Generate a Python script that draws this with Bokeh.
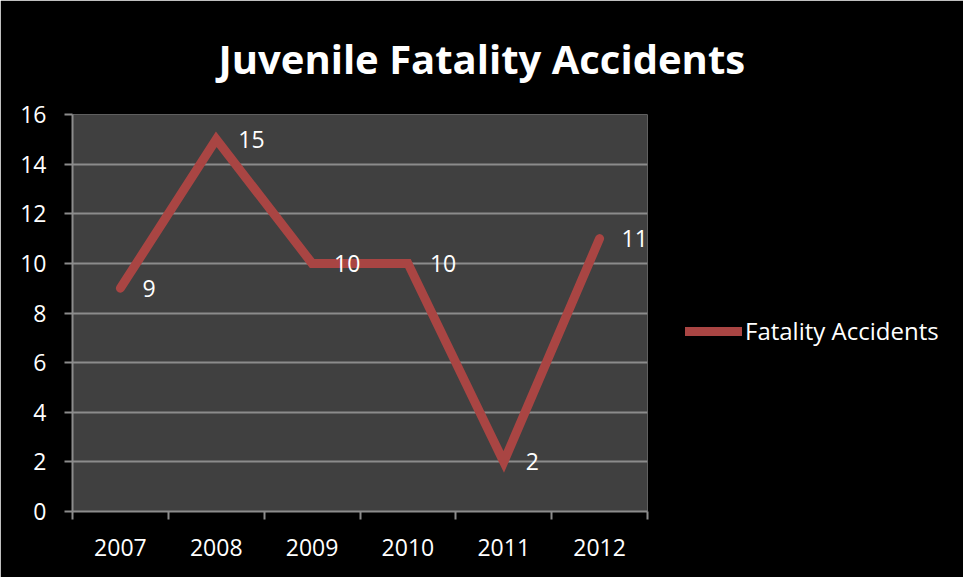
from bokeh.plotting import figure
from bokeh.models import ColumnDataSource, FixedTicker, Range1d, Legend, LegendItem
from bokeh.core.properties import value
from bokeh.embed import file_html
from bokeh.resources import INLINE

years = ["2007", "2008", "2009", "2010", "2011", "2012"]
accidents = [9, 15, 10, 10, 2, 11]
y_ticks = [0, 2, 4, 6, 8, 10, 12, 14, 16]

xpos = [i + 0.5 for i in range(len(years))]
src = ColumnDataSource(dict(x=xpos, y=accidents, lab=[str(v) for v in accidents]))

FONT = "Open Sans"
LINE_COLOR = "#A94543"

p = figure(width=963, height=577, output_backend="svg", toolbar_location=None,
           x_range=Range1d(0, len(years)), y_range=Range1d(0, 16),
           frame_width=575, frame_height=397,
           min_border_left=72, min_border_right=316, min_border_top=114, min_border_bottom=66)
p.background_fill_color = "#404040"
p.border_fill_color = "black"
p.outline_line_color = None

p.title.text = "Juvenile Fatality Accidents"
p.title.text_color = "white"
p.title.text_font = FONT
p.title.text_font_style = "bold"
p.title.text_font_size = "40px"
p.title.align = "left"
p.title.offset = 146
p.title.standoff = 57

r = p.line("x", "y", source=src, line_color=LINE_COLOR, line_width=9,
           line_cap="round", line_join="miter")
p.text("x", "y", text="lab", source=src, x_offset=22, text_align="left",
       text_baseline="middle", text_color="white", text_font=value(FONT),
       text_font_size="23px")

# axes
for ax in (p.xaxis[0], p.yaxis[0]):
    ax.axis_line_color = "#8c8c8c"
    ax.axis_line_width = 2
    ax.major_tick_line_color = "#8c8c8c"
    ax.minor_tick_line_color = "#8c8c8c"
    ax.major_tick_line_width = 2
    ax.minor_tick_line_width = 2
    ax.major_label_text_color = "white"
    ax.major_label_text_font = FONT
    ax.major_label_text_font_size = "23px"

p.xaxis.ticker = FixedTicker(ticks=xpos, minor_ticks=list(range(len(years) + 1)))
p.xaxis.major_label_overrides = {x: y for x, y in zip(xpos, years)}
p.xaxis.major_tick_out = 0
p.xaxis.major_tick_in = 0
p.xaxis.minor_tick_out = 8
p.xaxis.minor_tick_in = 0
p.xaxis.major_label_standoff = 19

p.yaxis.ticker = FixedTicker(ticks=y_ticks)
p.yaxis.major_tick_out = 8
p.yaxis.major_tick_in = 0
p.yaxis.minor_tick_line_color = None
p.yaxis.major_label_standoff = 18

p.xgrid.grid_line_color = None
p.ygrid.grid_line_color = "#8c8c8c"
p.ygrid.grid_line_width = 2

legend = Legend(items=[LegendItem(label="Fatality Accidents", renderers=[r])],
                location=(38, 164), padding=0, margin=0, glyph_width=57,
                label_standoff=3, border_line_color=None, background_fill_alpha=0,
                label_text_color="white", label_text_font=FONT,
                label_text_font_size="24px")
p.add_layout(legend, "right")

open("out.html", "w").write(file_html(p, INLINE))
